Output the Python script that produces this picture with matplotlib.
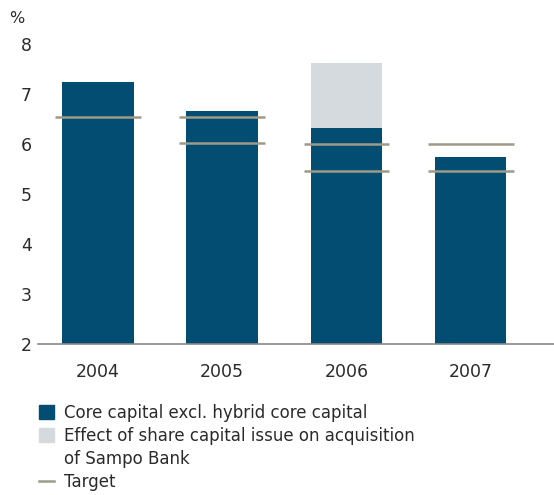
import matplotlib.pyplot as plt
from matplotlib.patches import Patch
from matplotlib.lines import Line2D

years = ['2004', '2005', '2006', '2007']
core = [7.24, 6.66, 6.32, 5.74]
share_issue = [0, 0, 1.30, 0]
targets = [[6.55], [6.55, 6.02], [6.0, 5.47], [6.0, 5.47]]

dark = '#034d73'
light = '#d4dadd'
tcol = '#9d9b88'
txt = '#2b2b2b'

plt.rcParams['font.family'] = ['DejaVu Sans']

fig = plt.figure(figsize=(5.54, 4.95), dpi=100)
ax = fig.add_axes([0.068, 0.305, 0.932, 0.606])

x = list(range(len(years)))
ax.bar(x, core, width=0.575, color=dark, zorder=2)
ax.bar(x, share_issue, width=0.575, bottom=core, color=light, zorder=2)
for i, tl in enumerate(targets):
    for t in tl:
        ax.hlines(t, i - 0.345, i + 0.345, color=tcol, lw=1.8, zorder=3)

ax.set_xlim(-0.485, 3.67)
ax.set_ylim(2, 8)
ax.set_yticks(range(2, 9))
ax.set_xticks(x)
ax.set_xticklabels(years)
for s in ['top', 'right', 'left']:
    ax.spines[s].set_visible(False)
ax.spines['bottom'].set_color('#888888')
ax.spines['bottom'].set_linewidth(1.2)
ax.tick_params(axis='both', length=0, labelsize=12.5, colors=txt)
ax.tick_params(axis='x', pad=14)
ax.tick_params(axis='y', pad=4)
fig.text(0.016, 0.963, '%', fontsize=11.5, color=txt, va='center', ha='left')

# legend; the wrapped label gets its own row with an empty handle
handles = [Patch(color=dark), Patch(color=light), Patch(color='none'),
           Line2D([], [], color=tcol, lw=1.8)]
labels = ['Core capital excl. hybrid core capital',
          'Effect of share capital issue on acquisition',
          'of Sampo Bank',
          'Target']
fig.legend(handles, labels, loc='upper left', bbox_to_anchor=(0.071, 0.184),
           frameon=False, fontsize=12, labelcolor=txt, handlelength=0.9,
           handleheight=0.9, handletextpad=0.55, labelspacing=0.3,
           borderpad=0, borderaxespad=0)

fig.savefig('out.png', dpi=100)
